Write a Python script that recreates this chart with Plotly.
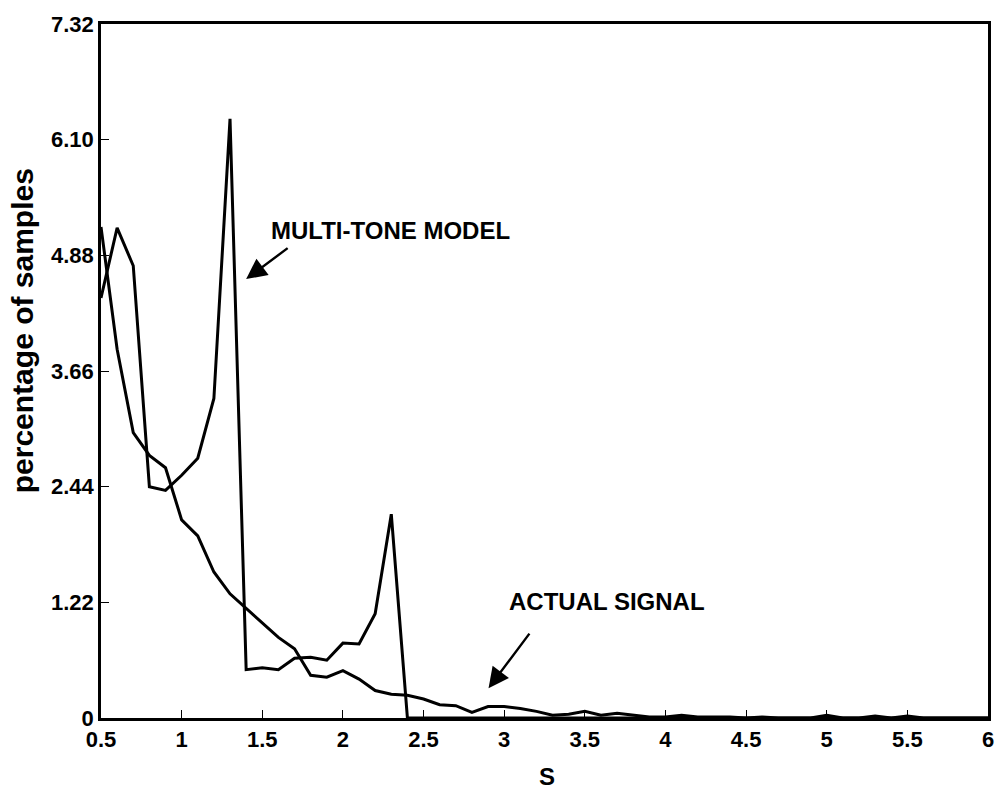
import plotly.graph_objects as go

# S axis values (0.5 .. 6.0, step 0.1)
s_values = [round(0.5 + 0.1 * i, 1) for i in range(56)]

# MULTI-TONE MODEL (spiky curve)
multi_tone = [4.43, 5.17, 4.77, 2.44, 2.40, 2.56, 2.74, 3.37, 6.32, 0.51,
              0.53, 0.51, 0.63, 0.64, 0.61, 0.79, 0.78, 1.10, 2.15, 0.00,
              0.00, 0.00, 0.00, 0.00, 0.00, 0.00, 0.00, 0.00, 0.00, 0.00,
              0.00, 0.00, 0.00, 0.00, 0.00, 0.00, 0.00, 0.00, 0.00, 0.00,
              0.00, 0.00, 0.00, 0.00, 0.00, 0.00, 0.00, 0.00, 0.00, 0.00,
              0.00, 0.00, 0.00, 0.00, 0.00, 0.00]

# ACTUAL SIGNAL (smooth decaying curve)
actual_signal = [5.18, 3.89, 3.01, 2.77, 2.64, 2.09, 1.92, 1.54, 1.31, 1.16,
                 1.00, 0.85, 0.73, 0.45, 0.43, 0.50, 0.41, 0.29, 0.25, 0.24,
                 0.20, 0.14, 0.13, 0.06, 0.12, 0.12, 0.10, 0.07, 0.03, 0.04,
                 0.07, 0.03, 0.05, 0.03, 0.01, 0.01, 0.03, 0.01, 0.01, 0.01,
                 0.00, 0.01, 0.00, 0.00, 0.00, 0.03, 0.00, 0.00, 0.02, 0.00,
                 0.02, 0.00, 0.00, 0.00, 0.00, 0.00]

x_ticks = [0.5, 1, 1.5, 2, 2.5, 3, 3.5, 4, 4.5, 5, 5.5, 6]
x_tick_labels = ["0.5", "1", "1.5", "2", "2.5", "3", "3.5", "4", "4.5", "5", "5.5", "6"]
y_ticks = [0, 1.22, 2.44, 3.66, 4.88, 6.10, 7.32]
y_tick_labels = ["0", "1.22", "2.44", "3.66", "4.88", "6.10", "7.32"]

FONT = "Liberation Sans, Arial, sans-serif"

fig = go.Figure()
fig.add_trace(go.Scatter(x=s_values, y=multi_tone, mode="lines",
                         line=dict(color="black", width=3), name="MULTI-TONE MODEL"))
fig.add_trace(go.Scatter(x=s_values, y=actual_signal, mode="lines",
                         line=dict(color="black", width=3), name="ACTUAL SIGNAL"))

axis_common = dict(showgrid=False, zeroline=False, showline=True, linecolor="black",
                   linewidth=2.5, mirror=True, ticks="inside", ticklen=8, tickwidth=1,
                   tickcolor="black",
                   tickfont=dict(family=FONT, size=22, color="black", weight="bold"))

fig.update_xaxes(range=[0.5, 6], tickvals=x_ticks, ticktext=x_tick_labels, **axis_common)
fig.update_yaxes(range=[0, 7.32], tickvals=y_ticks, ticktext=y_tick_labels, **axis_common)

ann_font = dict(family=FONT, size=24, color="black", weight="bold")
annotations = [
    dict(x=2.294, y=5.14, xref="x", yref="y", text="MULTI-TONE MODEL", showarrow=False,
         font=ann_font, xanchor="center", yanchor="middle"),
    dict(x=3.64, y=1.226, xref="x", yref="y", text="ACTUAL SIGNAL", showarrow=False,
         font=ann_font, xanchor="center", yanchor="middle"),
    dict(x=1.40, y=4.63, xref="x", yref="y", text="", showarrow=True, ax=43, ay=-32,
         arrowhead=2, arrowsize=1.7, arrowwidth=2.4, arrowcolor="black", standoff=0),
    dict(x=2.903, y=0.315, xref="x", yref="y", text="", showarrow=True, ax=42, ay=-56,
         arrowhead=2, arrowsize=1.7, arrowwidth=2.4, arrowcolor="black", standoff=0),
    dict(x=-0.0885, y=0.558, xref="paper", yref="paper", text="percentage of samples",
         showarrow=False, textangle=-90, xanchor="center", yanchor="middle",
         font=dict(family=FONT, size=30, color="black", weight="bold")),
    dict(x=0.503, y=-0.0837, xref="paper", yref="paper", text="S", showarrow=False,
         xanchor="center", yanchor="middle",
         font=dict(family=FONT, size=24, color="black", weight="bold")),
]

fig.update_layout(width=1006, height=791, margin=dict(l=101, r=14, t=13, b=73),
                  plot_bgcolor="white", paper_bgcolor="white", showlegend=False,
                  annotations=annotations)

fig.write_html("out.html")
